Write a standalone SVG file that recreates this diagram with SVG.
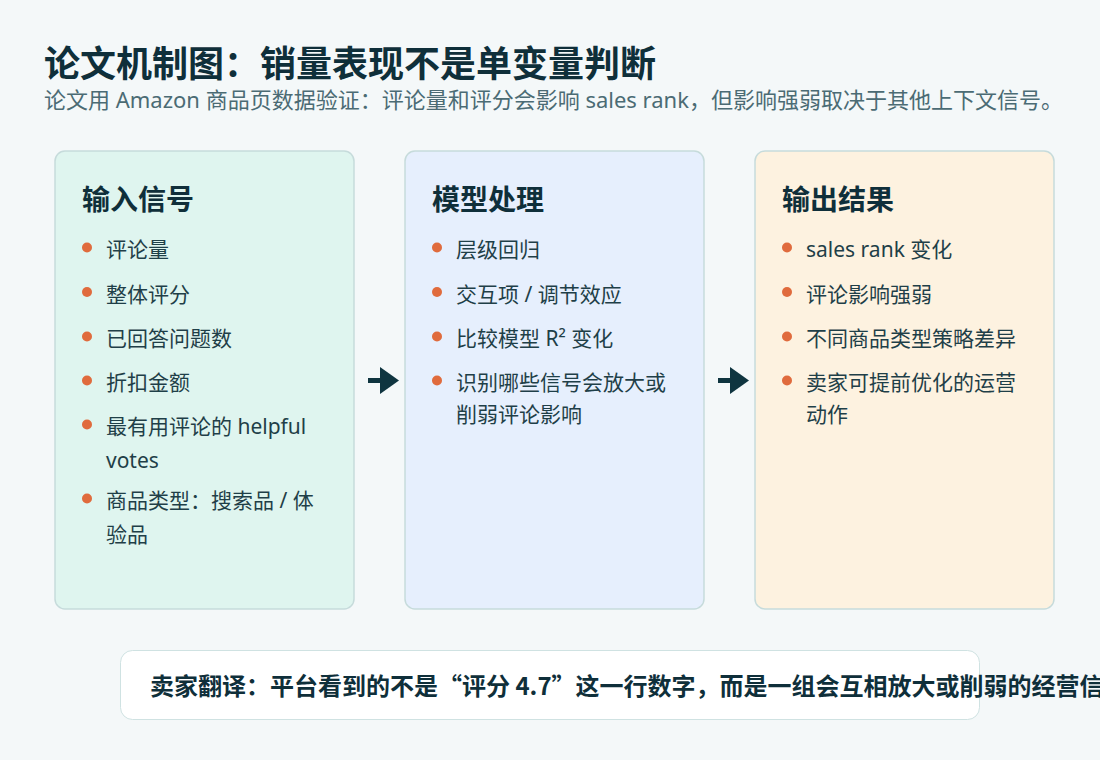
<svg xmlns="http://www.w3.org/2000/svg" width="1100" height="760" viewBox="0 0 1100 760">
<style>
text{font-family:"Noto Sans","Noto Sans CJK SC",sans-serif}
.title{font-size:36px;font-weight:700;fill:#0f2f3a}
.sub{font-size:22px;fill:#4b6b74}
.card{stroke:#c6dbdb;stroke-width:1.5}
.head{font-size:28px;font-weight:700;fill:#0f2f3a}
.item{font-size:21px;fill:#1f3f48}
.dot{fill:#e06b3d}
.note{font-size:24px;font-weight:700;fill:#0f2f3a;font-family:"Noto Sans CJK SC","Noto Sans",sans-serif}
.arrow{stroke:#0f3540;stroke-width:5;fill:none}
.ahead{fill:#0f3540}
</style>
<rect width="1100" height="760" fill="#f4f8f9"/>
<g id="header">
<text class="title" x="44" y="77">论文机制图：销量表现不是单变量判断</text>
<text class="sub" x="44" y="108">论文用 Amazon 商品页数据验证：评论量和评分会影响 sales rank，但影响强弱取决于其他上下文信号。</text>
</g>
<g id="input">
<rect class="card" x="55" y="151" width="299" height="458" rx="10" fill="#dff5ef"/>
<text class="head" x="82" y="210">输入信号</text>
<circle class="dot" cx="87" cy="247.5" r="5"/><text class="item" x="106" y="257">评论量</text>
<circle class="dot" cx="87" cy="292" r="5"/><text class="item" x="106" y="301.5">整体评分</text>
<circle class="dot" cx="87" cy="336.5" r="5"/><text class="item" x="106" y="346">已回答问题数</text>
<circle class="dot" cx="87" cy="380.5" r="5"/><text class="item" x="106" y="390">折扣金额</text>
<circle class="dot" cx="87" cy="424.5" r="5"/><text class="item" x="106" y="434">最有用评论的 helpful</text><text class="item" x="106" y="467.5">votes</text>
<circle class="dot" cx="87" cy="498.5" r="5"/><text class="item" x="106" y="508">商品类型：搜索品 / 体</text><text class="item" x="106" y="542">验品</text>
</g>
<g id="model">
<rect class="card" x="405" y="151" width="299" height="458" rx="10" fill="#e6effd"/>
<text class="head" x="432" y="210">模型处理</text>
<circle class="dot" cx="437" cy="247.5" r="5"/><text class="item" x="456" y="257">层级回归</text>
<circle class="dot" cx="437" cy="292" r="5"/><text class="item" x="456" y="301.5">交互项 / 调节效应</text>
<circle class="dot" cx="437" cy="336.5" r="5"/><text class="item" x="456" y="346">比较模型 R² 变化</text>
<circle class="dot" cx="437" cy="380.5" r="5"/><text class="item" x="456" y="390">识别哪些信号会放大或</text><text class="item" x="456" y="422">削弱评论影响</text>
</g>
<g id="output">
<rect class="card" x="755" y="151" width="299" height="458" rx="10" fill="#fdf2e0"/>
<text class="head" x="782" y="210">输出结果</text>
<circle class="dot" cx="787" cy="247.5" r="5"/><text class="item" x="806" y="257">sales rank 变化</text>
<circle class="dot" cx="787" cy="292" r="5"/><text class="item" x="806" y="301.5">评论影响强弱</text>
<circle class="dot" cx="787" cy="336.5" r="5"/><text class="item" x="806" y="346">不同商品类型策略差异</text>
<circle class="dot" cx="787" cy="380.5" r="5"/><text class="item" x="806" y="390">卖家可提前优化的运营</text><text class="item" x="806" y="422">动作</text>
</g>
<g id="connectors">
<line class="arrow" x1="368" y1="380.5" x2="384" y2="380.5"/>
<polygon class="ahead" points="380,367 399,380.5 380,394"/>
<line class="arrow" x1="718" y1="380.5" x2="734" y2="380.5"/>
<polygon class="ahead" points="730,367 749,380.5 730,394"/>
</g>
<g id="note">
<rect x="120.5" y="650.5" width="859" height="69" rx="12" fill="#ffffff" stroke="#cfe2e2" stroke-width="1"/>
<text class="note" x="150" y="695">卖家翻译：平台看到的不是“评分 4.7”这一行数字，而是一组会互相放大或削弱的经营信号。</text>
</g>
</svg>
